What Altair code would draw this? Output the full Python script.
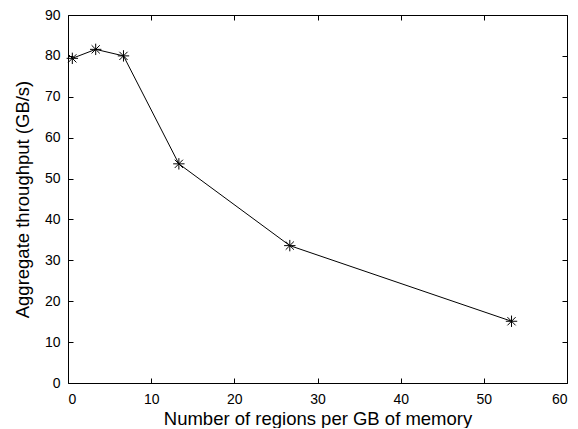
import altair as alt
import pandas as pd

# Data
regions_per_gb = [0.52, 3.33, 6.67, 13.33, 26.67, 53.33]
throughput = [79.4, 81.6, 80.0, 53.6, 33.6, 15.1]
x_ticks = [0, 10, 20, 30, 40, 50, 60]
y_ticks = [0, 10, 20, 30, 40, 50, 60, 70, 80, 90]
x_title = "Number of regions per GB of memory"
y_title = "Aggregate throughput (GB/s)"

df = pd.DataFrame({"x": regions_per_gb, "y": throughput})

FONT = "Liberation Sans"
TICK = 5
LABEL_SIZE = 14
TITLE_SIZE = 18.5
STAR = "M-1,0L1,0M0,-1L0,1M-0.72,-0.72L0.72,0.72M-0.72,0.72L0.72,-0.72"

xscale = alt.Scale(domain=[0, 60], nice=False, zero=False)
yscale = alt.Scale(domain=[0, 90], nice=False, zero=False)

common_axis = dict(
    tickSize=TICK, offset=-TICK, domain=False, grid=False,
    tickColor="black", tickWidth=1,
    labelFont=FONT, labelFontSize=LABEL_SIZE, labelColor="black",
    titleFont=FONT, titleFontSize=TITLE_SIZE, titleColor="black",
    titleFontWeight="normal",
)

x_bottom = alt.Axis(orient="bottom", values=x_ticks, title=x_title,
                    labelPadding=9, titlePadding=3, **common_axis)
y_left = alt.Axis(orient="left", values=y_ticks, title=y_title,
                  labelPadding=8, titlePadding=12, **common_axis)
x_top = alt.Axis(orient="top", values=x_ticks, title=None, labels=False,
                 **common_axis)
y_right = alt.Axis(orient="right", values=y_ticks, title=None, labels=False,
                   **common_axis)

base = alt.Chart(df)

line = base.mark_line(color="black", strokeWidth=1).encode(
    x=alt.X("x:Q", scale=xscale, axis=x_bottom),
    y=alt.Y("y:Q", scale=yscale, axis=y_left),
)

points = base.mark_point(shape=STAR, size=130, color="black", filled=False,
                         strokeWidth=1, opacity=1).encode(
    x=alt.X("x:Q", scale=xscale, axis=None),
    y=alt.Y("y:Q", scale=yscale, axis=None),
)

mirror = base.mark_point(opacity=0).encode(
    x=alt.X("x:Q", scale=xscale, axis=x_top),
    y=alt.Y("y:Q", scale=yscale, axis=y_right),
)

chart = alt.layer(line, points, mirror).resolve_scale(
    x="independent", y="independent"
).properties(
    width=499, height=368,
    autosize=alt.AutoSizeParams(type="none"),
    padding={"left": 60, "top": 7, "right": 3, "bottom": 45},
    background="white",
).configure_view(stroke="black", strokeWidth=1)

chart.save("out.html", embed_options={"renderer": "svg", "actions": False})
